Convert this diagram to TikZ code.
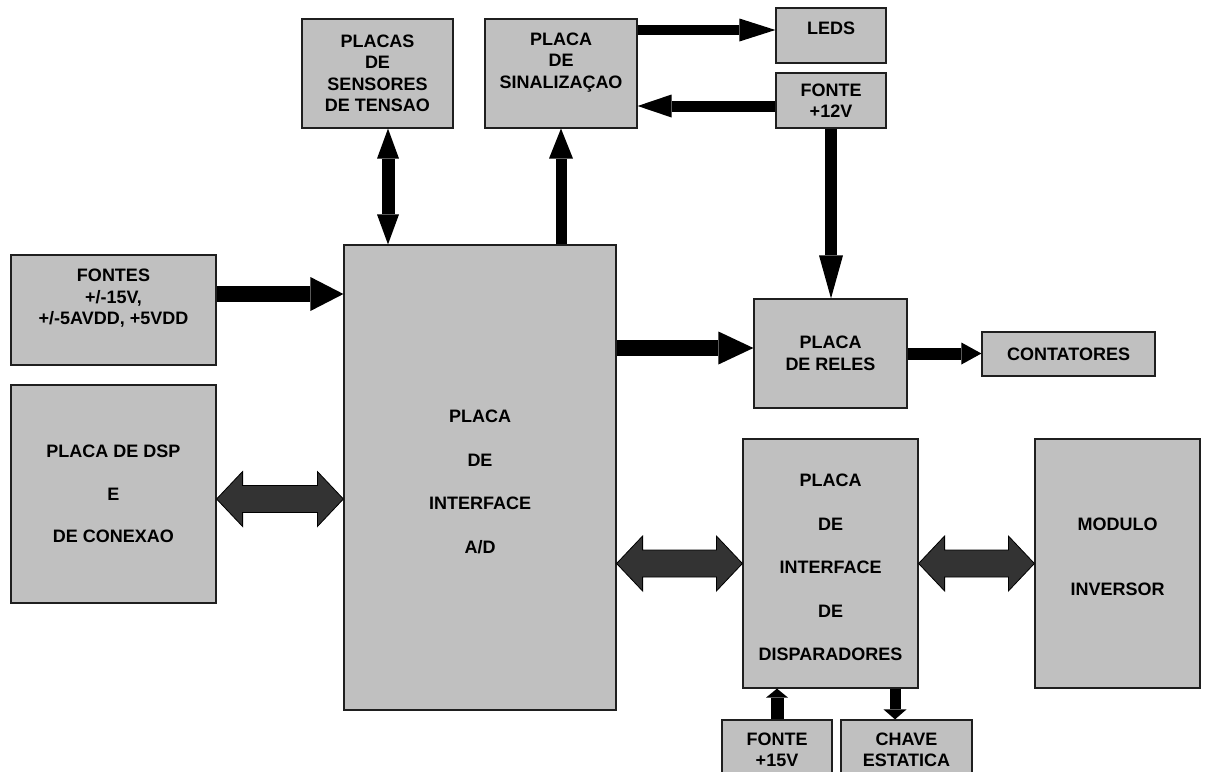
\documentclass[tikz,border=0pt]{standalone}
\usepackage{fontspec}
\setmainfont{Liberation Sans}
\usetikzlibrary{arrows.meta,calc}
\definecolor{caixa}{HTML}{C0C0C0}
\definecolor{borda}{HTML}{1F1F1F}
\definecolor{seta}{HTML}{333333}

\begin{document}
\begin{tikzpicture}[x=1pt,y=-1pt,font=\bfseries\fontsize{18}{21.5}\selectfont,
  bloco/.style={draw=borda,fill=caixa,line width=1.2pt,align=center,inner sep=0pt},
  barra/.style n args={3}{line width=#1pt,
     >={Triangle[width=#2pt 0 0,length=#3pt 0 0,line width=0pt 0 0]}},
  dupla/.style={draw=black,line width=0.8pt,fill=seta,line join=miter,
     to path={-- ++(26,-27.5) -- ++(0,14) -- ($(\tikztotarget)+(-26,-13.5)$)
       -- ++(0,-14) -- (\tikztotarget) -- ++(-26,27.5) -- ++(0,-14)
       -- ($(\tikztostart)+(26,13.5)$) -- ++(0,14) -- cycle}}]
  \clip (0,0) rectangle (1207,771);
  \node[bloco,minimum width=151pt,minimum height=109pt] (sens) at (377.5,73.5)
    {PLACAS\\DE\\SENSORES\\DE TENSAO};
  \node[bloco,minimum width=152pt,minimum height=109pt,text depth=26pt] (sinal) at (561,73.5)
    {PLACA\\DE\\SINALIZAÇAO};
  \node[bloco,minimum width=110pt,minimum height=55pt,text depth=15pt] (leds) at (831,35.5) {LEDS};
  \node[bloco,minimum width=110pt,minimum height=55pt] (f12) at (831,100.5) {FONTE\\+12V};
  \node[bloco,minimum width=205pt,minimum height=110pt,text depth=26pt] (fontes) at (113.5,310)
    {FONTES\\+/-15V,\\+/-5AVDD, +5VDD};
  \node[bloco,minimum width=205pt,minimum height=218pt] (dsp) at (113.5,494)
    {PLACA DE DSP\\[21pt]E\\[21pt]DE CONEXAO};
  \node[bloco,minimum width=272pt,minimum height=465pt,text height=152pt] (ad) at (480,477.5)
    {PLACA\\[22pt]DE\\[22pt]INTERFACE\\[22pt]A/D};
  \node[bloco,minimum width=153pt,minimum height=109pt] (reles) at (830.5,353.5) {PLACA\\DE RELES};
  \node[bloco,minimum width=173pt,minimum height=44pt] (cont) at (1068.5,354) {CONTATORES};
  \node[bloco,minimum width=175pt,minimum height=249pt,text height=195pt] (disp) at (830.5,563.5)
    {PLACA\\[22pt]DE\\[22pt]INTERFACE\\[22pt]DE\\[22pt]DISPARADORES};
  \node[bloco,minimum width=165pt,minimum height=249pt,text depth=14pt] (mod) at (1117.5,563.5)
    {MODULO\\[43.5pt]INVERSOR};
  \node[bloco,minimum width=110pt,minimum height=60pt] (f15) at (777,750) {FONTE\\+15V};
  \node[bloco,minimum width=131pt,minimum height=60pt] (chave) at (906.5,750) {CHAVE\\ESTATICA};

  \coordinate (sn) at ([xshift=10.5pt]sens.south);
  \draw[barra={13}{22}{30},<->] (sn) -- (sn |- ad.north);
  \draw[barra={11}{24}{30},->] (sinal.south |- ad.north) -- (sinal.south);
  \coordinate (ld) at ([yshift=5.5pt]leds.west);
  \draw[barra={10}{23}{36},->] (ld -| sinal.east) -- (ld);
  \coordinate (fa) at ([yshift=-5.5pt]f12.west);
  \draw[barra={11}{23}{34},->] (fa) -- (fa -| sinal.east);
  \draw[barra={12}{24}{43},->] (f12.south) -- (f12.south |- reles.north);
  \coordinate (fo) at ([yshift=16pt]fontes.east);
  \draw[barra={16}{34}{33},->] (fo) -- (fo -| ad.west);
  \coordinate (rl) at ([yshift=5.5pt]reles.west);
  \draw[barra={16}{33}{35},->] (rl -| ad.east) -- (rl);
  \draw[barra={12}{22}{20},->] (reles.east) -- (reles.east -| cont.west);
  \draw[barra={13}{22}{9},->] (f15.north) -- (f15.north |- disp.south);
  \coordinate (ch) at ([xshift=-11.5pt]chave.north);
  \draw[barra={11}{23}{10},->] (ch |- disp.south) -- (ch);

  \coordinate (dd) at ([yshift=-5pt]dsp.east);
  \draw[dupla] (dd) to (dd -| ad.west);
  \coordinate (di) at (disp.west -| ad.east);
  \draw[dupla] (di) to (disp.west);
  \draw[dupla] (disp.east) to (mod.west);
\end{tikzpicture}
\end{document}
